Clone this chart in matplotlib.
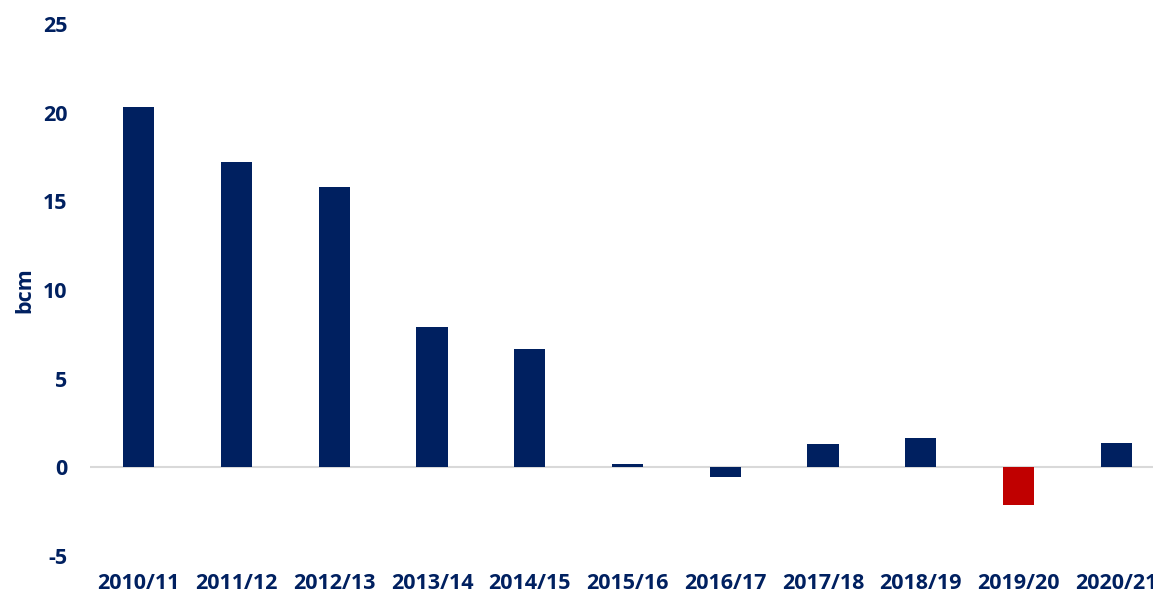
import matplotlib
matplotlib.use('Agg')
import matplotlib.pyplot as plt
import numpy as np

#Data
years = ['2010/11', '2011/12', '2012/13', '2013/14', '2014/15', '2015/16',
         '2016/17', '2017/18', '2018/19', '2019/20', '2020/21']
values = [20.3, 17.2, 15.8, 7.9, 6.7, 0.2, -0.55, 1.3, 1.65, -2.15, 1.4]
highlight = '2019/20'

navy = '#002060'
red = '#C00000'

plt.rcParams['font.family'] = ['Open Sans', 'DejaVu Sans']
plt.rcParams['axes.unicode_minus'] = False

fig = plt.figure(figsize=(11.53, 5.96), dpi=100)
ax = fig.add_axes([0.078, 0.0671, 0.9326, 0.8926])

x = np.arange(len(years))
colors = [red if y == highlight else navy for y in years]
ax.bar(x, values, width=0.32, color=colors, zorder=3)

ax.axhline(0, color='#d9d9d9', linewidth=1.5, zorder=2)

ax.set_xlim(-0.5, 10.5)
ax.set_ylim(-5, 25)
ax.set_yticks([-5, 0, 5, 10, 15, 20, 25])
ax.set_xticks(x)
ax.set_xticklabels(years)

for s in ax.spines.values():
    s.set_visible(False)
ax.tick_params(axis='both', length=0, labelsize=15.5, labelcolor=navy)
ax.tick_params(axis='y', pad=16)
ax.tick_params(axis='x', pad=12)
for lab in ax.get_xticklabels() + ax.get_yticklabels():
    lab.set_fontweight('bold')

ax.set_ylabel('bcm', fontsize=15.5, fontweight='bold', color=navy, labelpad=6)

fig.savefig('out.png', dpi=100)
